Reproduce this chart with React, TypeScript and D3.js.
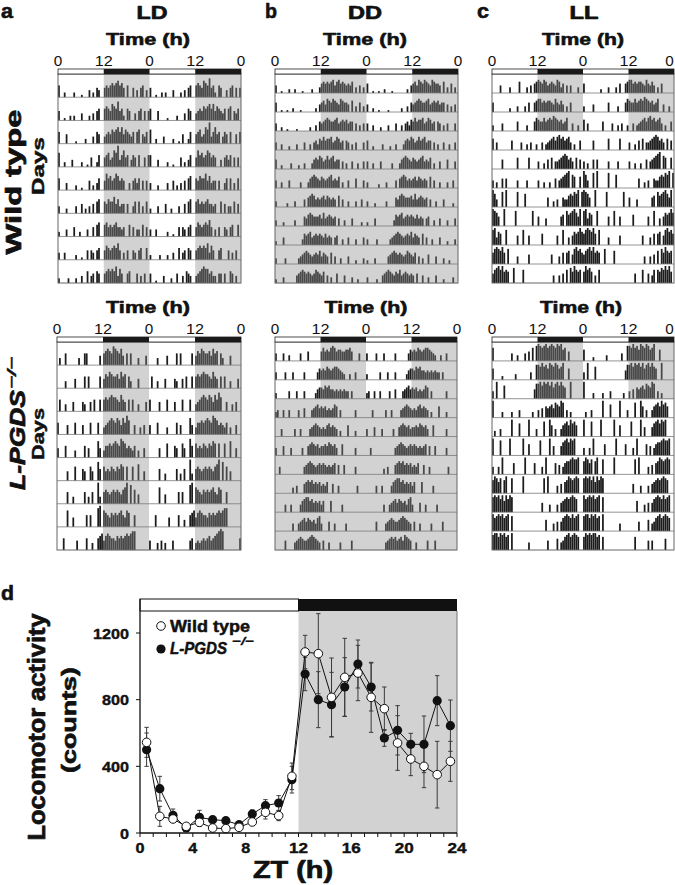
import React from 'react';
import * as d3 from 'd3';

const FONT = '"Liberation Sans", Arial, Helvetica, sans-serif';

// Actogram activity: one string per day, 48 half-hour bins (relative counts 0-9)
const wtLD = [
  '50020000 20001000 30204300 45456567 56405004 03045030',
  '40010020 20003000 20304500 56547658 45205400 30450404',
  '50004000 01000020 00305400 34546567 57465435 05604350',
  '60020003 00002001 04002500 45634769 35745035 40500405',
  '50003000 02001000 40203500 47564576 45400304 53504040',
  '30002000 03004020 30405600 54655746 34404003 50503050',
  '20003000 40020003 00405600 56454564 43400504 03305040',
  '30030000 02001004 04304500 46545657 40304004 30450050',
  '20000200 02003005 03405400 45656573 64004500 04030400',
  '40010003 00020040 03054300 34567664 53304404 00540300',
];
const wtDD = [
  '40010002 00200010 00020003 56565674 67565454 60304030',
  '50010010 02000100 00000204 56476576 54765540 60305030',
  '40020010 00010000 00200305 45676556 74565645 50403040',
  '40030002 00030004 00304536 57566745 76450540 30400040',
  '50020000 30002003 00035657 64575674 55040300 40030040',
  '40030004 00000300 03567654 65456745 46030040 00500040',
  '30000020 00300004 05676454 56465454 06040030 00300400',
  '30002000 00300005 46765556 47456545 04003000 40000200',
  '20004000 00000036 56745656 54645404 50030040 00300040',
  '30000300 00003456 76545657 46540604 00300040 00200030',
  '20003000 00045676 56545765 46040300 50004000 30020000',
  '30000200 45676546 57456545 40500400 30004000 20000300',
];
const wtLL = [
  '00004000 03000060 00304056 76576456 54763504 04000300',
  '50000000 02000300 03050056 77565665 47546403 05000000',
  '30000400 00000500 00300057 65575676 87656457 00400300',
  '60400000 00500004 00304003 00403456 75786756 74030050',
  '00000500 00000600 00060000 40030506 04456787 56406050',
  '40300505 00000400 00400000 40030030 05045678 90760060',
  '97400809 00000800 07000000 00000500 30400544 67687908',
  '98750090 00008000 00000800 50004000 00005608 67897590',
  '89476008 00000500 80050000 00600000 00500800 40576797',
  '68987960 80000400 00050000 00000005 00040606 70589786',
  '57897967 60080000 70000000 00000000 40040507 08697670',
  '69786040 70000000 00000000 00050007 00504707 68797960',
];
const koLD = [
  '03005000 00030055 00000040 56765876 57405050 00300040',
  '00003000 04000050 50000050 46576556 47560530 00400000',
  '05003000 40000430 04050050 56567665 47540505 00300040',
  '50000400 05000400 05000500 34567657 64758600 40030400',
  '40005000 03000050 40000740 35565676 58764543 50300400',
  '00000400 06000540 06400850 64546546 57606006 00700400',
  '00000500 30000050 30500930 56545656 54679080 60400000',
  '00000700 40000005 05000890 76546565 67547600 50000000',
  '00050000 00400005 00300567 46765546 56567678 80000000',
  '40003040 30004000 00000450 34345456 45678980 00000005',
];
const koDD = [
  '40004003 00000400 05000000 57565787 56655667 50004000',
  '40000400 04000004 00000046 56576567 76543003 00400000',
  '30000004 00040004 00000356 65767554 54545440 40000000',
  '34004004 00004005 00045675 65645457 60400000 00400000',
  '00040000 00400400 00456765 45467565 40300060 00300000',
  '40005000 40000040 05676564 55657656 40060000 00400000',
  '00400000 00000004 56765456 56545456 05005000 00400000',
  '00000000 03040005 67675656 45460050 04000000 00040000',
  '00000400 40000467 88675656 46000600 00040000 00000000',
  '00000000 04004567 57656478 40005004 00000400 00000000',
  '00000500 00456765 56787654 05004000 00400000 50000000',
  '00000000 00456767 56758765 00400000 50005000 00000000',
];
const koLL = [
  '70000000 00400300 04050708 98789789 87989670 50000000',
  '60000200 00003000 00004008 87978698 79867900 60000000',
  '40900070 00000000 00000058 89798979 68979760 09000000',
  '90000300 00300040 00000300 40506567 58769804 03000000',
  '03004000 00900070 00090004 00080096 04004678 69786000',
  '90008000 09000000 90060000 08000090 50005789 79890000',
  '40040900 00060000 09000060 00409000 06050467 78988900',
  '79868079 00800000 90000000 00080900 00405067 98789800',
  '89897969 79800000 00000000 00500040 00405678 78987000',
  '97898978 90800000 00000000 00006000 40505789 87978900',
  '89979897 80900000 00040000 00000500 00604578 97898700',
  '79898997 80700000 00000000 00070000 00505000 00060000',
];

const timeTickHours = [0, 12, 24, 36, 48];
const timeTickLabels = ['0', '12', '0', '12', '0'];

// Panel d: 24-h locomotor activity profile
const zt = [0.5, 1.5, 2.5, 3.5, 4.5, 5.5, 6.5, 7.5, 8.5, 9.5, 10.5, 11.5,
  12.5, 13.5, 14.5, 15.5, 16.5, 17.5, 18.5, 19.5, 20.5, 21.5, 22.5, 23.5];
const wtMean = [544, 100, 84, 40, 64, 30, 26, 34, 66, 124, 104, 340,
  1086, 1076, 814, 934, 960, 814, 746, 540, 444, 400, 350, 430];
const wtSE = [90, 60, 15, 10, 25, 15, 15, 12, 20, 40, 30, 80,
  100, 240, 236, 234, 166, 210, 130, 164, 100, 128, 200, 120];
const koMean = [500, 266, 106, 30, 94, 80, 74, 50, 114, 164, 180, 320,
  954, 800, 770, 876, 1014, 876, 570, 616, 532, 532, 794, 644];
const koSE = [100, 74, 38, 10, 42, 15, 15, 12, 25, 36, 44, 80,
  100, 168, 194, 176, 144, 144, 50, 148, 66, 170, 150, 154];
const yTicksD = [0, 400, 800, 1200];
const xTicksD = [0, 4, 8, 12, 16, 20, 24];

const GRAY = '#d2d2d2';

type TxtProps = {
  x: number; y: number; size: number; len?: number; anchor?: string;
  rot?: boolean; italic?: boolean; weight?: string | number; heavy?: number; children: any;
};
function Txt({ x, y, size, len, anchor = 'middle', rot = false, italic = false, weight = 'bold', heavy = 0, children }: TxtProps) {
  return (
    <text
      transform={rot ? `translate(${x},${y}) rotate(-90)` : undefined}
      x={rot ? 0 : x}
      y={rot ? 0 : y}
      fontSize={size}
      fontFamily={FONT}
      fontWeight={weight}
      fontStyle={italic ? 'italic' : 'normal'}
      textAnchor={anchor}
      textLength={len}
      lengthAdjust={len ? 'spacingAndGlyphs' : undefined}
      fill="#111"
      stroke={heavy ? '#111' : undefined}
      strokeWidth={heavy || undefined}
      strokeLinejoin="round"
    >
      {children}
    </text>
  );
}

type ActProps = {
  x0: number; x1: number; barTop: number; boxTop: number; boxBottom: number;
  days: string[]; mode: 'LD' | 'DD' | 'LL';
};
function Actogram({ x0, x1, barTop, boxTop, boxBottom, days, mode }: ActProps) {
  const x = d3.scaleLinear().domain([0, 48]).range([x0, x1]);
  const parsed = days.map((s) => s.replace(/ /g, '').split('').map(Number));
  const nRows = parsed.length - 1;
  const rowH = (boxBottom - boxTop) / nRows;
  const hScale = d3.scaleLinear().domain([0, 9]).range([0, rowH - 2]);
  const binW = x(0.5) - x(0);
  const rowShade = (r: number) => (mode === 'LD' || r < 3 ? 'ld' : mode === 'DD' ? 'all' : 'none');
  const shaded = (r: number, h: number) => {
    const m = rowShade(r);
    if (m === 'all') return true;
    if (m === 'none') return false;
    return (h >= 12 && h < 24) || (h >= 36 && h < 48);
  };
  const shadeRects: any[] = [];
  for (let r = 0; r < nRows; r++) {
    const y = boxTop + r * rowH;
    const m = rowShade(r);
    if (m === 'all') shadeRects.push(<rect key={`s${r}`} x={x(0)} y={y} width={x(48) - x(0)} height={rowH + 0.5} fill={GRAY} />);
    else if (m === 'ld') {
      shadeRects.push(<rect key={`s${r}a`} x={x(12)} y={y} width={x(24) - x(12)} height={rowH + 0.5} fill={GRAY} />);
      shadeRects.push(<rect key={`s${r}b`} x={x(36)} y={y} width={x(48) - x(36)} height={rowH + 0.5} fill={GRAY} />);
    }
  }
  const bars: any[] = [];
  for (let r = 0; r < nRows; r++) {
    const base = boxTop + (r + 1) * rowH;
    [parsed[r], parsed[r + 1]].forEach((day, half) => {
      day.forEach((v, i) => {
        if (v <= 0) return;
        const h = half * 24 + i / 2;
        const hh = hScale(v);
        bars.push(
          <rect key={`b${r}-${half}-${i}`} x={x(h) + binW * 0.04} y={base - hh} width={binW * 0.92} height={hh}
            fill={shaded(r, h) ? '#484848' : '#1c1c1c'} />
        );
      });
    });
  }
  const baselines = d3.range(1, nRows).map((r) => (
    <line key={`l${r}`} x1={x(0)} x2={x(48)} y1={boxTop + r * rowH} y2={boxTop + r * rowH} stroke="#7a7a7a" strokeWidth={0.8} />
  ));
  return (
    <g>
      {shadeRects}
      {bars}
      {baselines}
      <rect x={x(0)} y={boxTop} width={x(48) - x(0)} height={boxBottom - boxTop} fill="none" stroke="#666" strokeWidth={1} />
      <rect x={x(0)} y={barTop} width={x(48) - x(0)} height={boxTop - barTop} fill="#fff" stroke="#222" strokeWidth={0.8} />
      <rect x={x(12)} y={barTop} width={x(24) - x(12)} height={boxTop - barTop} fill="#1a1a1a" />
      <rect x={x(36)} y={barTop} width={x(48) - x(36)} height={boxTop - barTop} fill="#1a1a1a" />
      {timeTickHours.map((h, i) => (
        <Txt key={`t${i}`} x={Math.min(x(h), 669.5)} y={barTop - 3} size={14} weight="normal"
          len={timeTickLabels[i].length === 1 ? 8.5 : 18}>
          {timeTickLabels[i]}
        </Txt>
      ))}
    </g>
  );
}

function ProfileChart() {
  const xD = d3.scaleLinear().domain([0, 24]).range([140, 457]);
  const yD = d3.scaleLinear().domain([0, 1332]).range([833, 611]);
  const line = d3.line<number>().x((_, i) => xD(zt[i])).y((d) => yD(d));
  const errBars = (mean: number[], se: number[], key: string) =>
    mean.map((m, i) => {
      const cx = xD(zt[i]);
      const y1 = yD(m + se[i]);
      const y2 = yD(Math.max(0, m - se[i]));
      return (
        <g key={`${key}${i}`} stroke="#3a3a3a" strokeWidth={1}>
          <line x1={cx} x2={cx} y1={y1} y2={y2} />
          <line x1={cx - 2.2} x2={cx + 2.2} y1={y1} y2={y1} />
          <line x1={cx - 2.2} x2={cx + 2.2} y1={y2} y2={y2} />
        </g>
      );
    });
  return (
    <g>
      <rect x={xD(12)} y={611} width={xD(24) - xD(12)} height={833 - 611} fill={GRAY} />
      <line x1={xD(24)} x2={xD(24)} y1={611} y2={833} stroke="#777" strokeWidth={1} />
      <rect x={xD(0)} y={599} width={xD(12) - xD(0)} height={12} fill="#fff" stroke="#111" strokeWidth={1} />
      <rect x={xD(12)} y={599} width={xD(24) - xD(12)} height={12} fill="#111" />
      {errBars(koMean, koSE, 'ek')}
      {errBars(wtMean, wtSE, 'ew')}
      <path d={line(koMean) || ''} fill="none" stroke="#111" strokeWidth={1} />
      <path d={line(wtMean) || ''} fill="none" stroke="#111" strokeWidth={1} />
      {koMean.map((m, i) => (
        <circle key={`ck${i}`} cx={xD(zt[i])} cy={yD(m)} r={4.6} fill="#111" />
      ))}
      {wtMean.map((m, i) => (
        <circle key={`cw${i}`} cx={xD(zt[i])} cy={yD(m)} r={4.3} fill="#fff" stroke="#111" strokeWidth={1} />
      ))}
      <line x1={140} x2={140} y1={599} y2={833} stroke="#111" strokeWidth={1.3} />
      <line x1={140} x2={457} y1={833} y2={833} stroke="#111" strokeWidth={1.3} />
      {d3.range(0, 25).map((h) => (
        <line key={`xt${h}`} x1={xD(h)} x2={xD(h)} y1={833} y2={837} stroke="#111" strokeWidth={1} />
      ))}
      {xTicksD.map((t) => (
        <Txt key={`xl${t}`} x={xD(t)} y={853} size={15} heavy={0.4} len={t < 10 ? 9 : 19}>{String(t)}</Txt>
      ))}
      {yTicksD.map((t) => (
        <line key={`yt${t}`} x1={136} x2={140} y1={yD(t)} y2={yD(t)} stroke="#111" strokeWidth={1} />
      ))}
      {yTicksD.map((t) => (
        <Txt key={`yl${t}`} x={129} y={yD(t) + 5.5} size={15} heavy={0.4} anchor="end" len={String(t).length * 9}>{String(t)}</Txt>
      ))}
      <Txt x={293} y={878} size={23} heavy={0.7} len={80}>ZT (h)</Txt>
      <Txt x={45} y={727} size={23} heavy={0.7} len={227} rot>Locomotor activity</Txt>
      <Txt x={76} y={720} size={21} heavy={0.7} len={106} rot>(counts)</Txt>
      <circle cx={161} cy={626} r={4.3} fill="#fff" stroke="#111" strokeWidth={1} />
      <Txt x={170} y={632} size={17} heavy={0.5} anchor="start" len={80}>Wild type</Txt>
      <circle cx={161} cy={649} r={4.6} fill="#111" />
      <Txt x={170} y={654} size={17} heavy={0.5} anchor="start" len={57} italic>L-PGDS</Txt>
      <Txt x={232} y={645} size={11} heavy={0.3} anchor="start" len={22} italic>−/−</Txt>
    </g>
  );
}

export default function App() {
  return (
    <div style={{ position: 'absolute', left: 0, top: 0 }}>
      <svg width={675} height={885} style={{ display: 'block', background: '#fff' }}>
        <Txt x={1} y={18} size={21} heavy={0.6} anchor="start" len={12}>a</Txt>
        <Txt x={265} y={18} size={21} heavy={0.6} anchor="start" len={12}>b</Txt>
        <Txt x={477} y={18} size={21} heavy={0.6} anchor="start" len={12}>c</Txt>
        <Txt x={152} y={18.5} size={19} heavy={0.7} len={31}>LD</Txt>
        <Txt x={365} y={18.5} size={19} heavy={0.7} len={34}>DD</Txt>
        <Txt x={584} y={18.5} size={19} heavy={0.7} len={29}>LL</Txt>
        <Txt x={148} y={44.5} size={17} heavy={0.6} len={84}>Time (h)</Txt>
        <Txt x={365} y={44.5} size={17} heavy={0.6} len={84}>Time (h)</Txt>
        <Txt x={583} y={44.5} size={17} heavy={0.6} len={82}>Time (h)</Txt>
        <Txt x={148} y={312.5} size={17} heavy={0.6} len={84}>Time (h)</Txt>
        <Txt x={366} y={312.5} size={17} heavy={0.6} len={83}>Time (h)</Txt>
        <Txt x={581} y={312.5} size={17} heavy={0.6} len={82}>Time (h)</Txt>

        <Txt x={21} y={182} size={22} heavy={0.7} len={145} rot>Wild type</Txt>
        <Txt x={44} y={166} size={17} heavy={0.5} len={58} rot>Days</Txt>
        <Txt x={25} y={440} size={22} heavy={0.7} len={100} rot italic>L-PGDS</Txt>
        <Txt x={16} y={373} size={13} heavy={0.4} len={32} rot italic>−/−</Txt>
        <Txt x={44} y={434} size={17} heavy={0.5} len={52} rot>Days</Txt>

        <Actogram x0={58} x1={241} barTop={69} boxTop={74} boxBottom={283} days={wtLD} mode="LD" />
        <Actogram x0={275} x1={458} barTop={69} boxTop={74} boxBottom={283} days={wtDD} mode="DD" />
        <Actogram x0={492} x1={674} barTop={69} boxTop={74} boxBottom={283} days={wtLL} mode="LL" />
        <Actogram x0={57} x1={241} barTop={337} boxTop={342} boxBottom={550} days={koLD} mode="LD" />
        <Actogram x0={275} x1={457} barTop={337} boxTop={342} boxBottom={550} days={koDD} mode="DD" />
        <Actogram x0={492} x1={674} barTop={337} boxTop={342} boxBottom={550} days={koLL} mode="LL" />

        <Txt x={1} y={600} size={21} heavy={0.6} anchor="start" len={13}>d</Txt>
        <ProfileChart />
      </svg>
    </div>
  );
}
